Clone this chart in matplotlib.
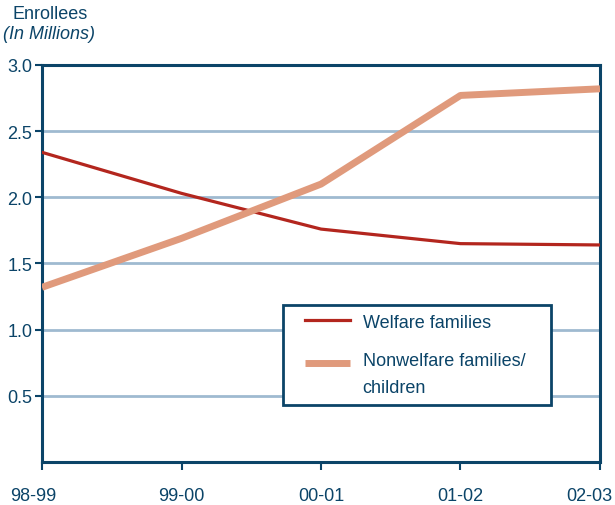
import numpy as np
import matplotlib.pyplot as plt
from matplotlib.legend_handler import HandlerLine2D
from matplotlib.transforms import ScaledTranslation

plt.rcParams['font.family'] = ['Liberation Sans', 'DejaVu Sans']

years = ["98-99", "99-00", "00-01", "01-02", "02-03"]
welfare = [2.34, 2.03, 1.76, 1.65, 1.64]
nonwelfare = [1.32, 1.69, 2.10, 2.77, 2.82]

navy = '#0b4468'
red = '#b3261e'
salmon = '#e09a7c'
grid = '#9fbad0'


class RaisedLine(HandlerLine2D):
    """Legend line lifted to sit beside the first row of a two-line label."""
    def __init__(self, lift=0, **kw):
        super().__init__(**kw)
        self.lift = lift

    def create_artists(self, *args, **kw):
        arts = super().create_artists(*args, **kw)
        for a in arts:
            a.set_ydata(np.asarray(a.get_ydata()) + self.lift)
        return arts


fig = plt.figure(figsize=(6.15, 5.06), dpi=100)
ax = fig.add_axes([0.0683, 0.085, 0.9073, 0.7846])

x = range(len(years))
l1, = ax.plot(x, welfare, color=red, lw=2.3, label='Welfare families', zorder=3)
l2, = ax.plot(x, nonwelfare, color=salmon, lw=5, label='Nonwelfare families/\nchildren',
              zorder=3, solid_capstyle='butt')

ax.set_xlim(0, len(years) - 1)
ax.set_ylim(0, 3.0)
ax.set_yticks([0.5, 1.0, 1.5, 2.0, 2.5, 3.0])
ax.set_yticklabels(['0.5', '1.0', '1.5', '2.0', '2.5', '3.0'])
ax.set_xticks(list(x))
ax.set_xticklabels(years)
for y in [0.5, 1.0, 1.5, 2.0, 2.5]:
    ax.axhline(y, color=grid, lw=2, zorder=1)

for s in ax.spines.values():
    s.set_color(navy)
    s.set_linewidth(2.2)
ax.tick_params(axis='both', colors=navy, labelsize=13, width=1.5)
ax.tick_params(axis='y', length=5, pad=2)
ax.tick_params(axis='x', length=6, pad=12)

# pull the end labels inward so they stay on the page
labels = ax.get_xticklabels()
labels[0].set_transform(labels[0].get_transform() + ScaledTranslation(-0.09, 0, fig.dpi_scale_trans))
labels[-1].set_transform(labels[-1].get_transform() + ScaledTranslation(-0.11, 0, fig.dpi_scale_trans))

fig.text(0.02, 0.962, 'Enrollees', color=navy, fontsize=13)
fig.text(0.005, 0.922, '(In Millions)', color=navy, fontsize=13, style='italic')

leg = ax.legend(handles=[l1, l2], loc='lower left',
                bbox_to_anchor=(0.432, 0.143, 0.48, 0.252),
                mode='expand', borderaxespad=0, fontsize=13, frameon=True,
                fancybox=False, handlelength=3.2, handletextpad=0.7,
                labelspacing=1.2, borderpad=0.5, labelcolor=navy,
                handler_map={l1: RaisedLine(xpad=0.7),
                             l2: RaisedLine(lift=8, xpad=0.7)})
leg.get_frame().set_edgecolor(navy)
leg.get_frame().set_linewidth(2)
leg.get_frame().set_alpha(1)
for t in leg.get_texts():
    t.set_linespacing(1.75)

fig.savefig('out.png', dpi=100)
